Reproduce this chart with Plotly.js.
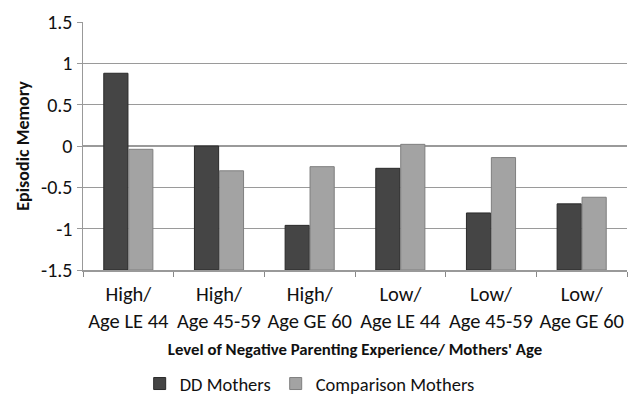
<!DOCTYPE html>
<html><head><meta charset="utf-8">
<script src="https://cdn.plot.ly/plotly-3.0.1.min.js"></script>
<style>html,body{margin:0;padding:0;background:#fff}#chart{width:632px;height:400px}</style>
</head><body><div id="chart"></div>
<script>
const categories = ["High/<br>Age LE 44","High/<br>Age 45-59","High/<br>Age GE 60","Low/<br>Age LE 44","Low/<br>Age 45-59","Low/<br>Age GE 60"];
const ddMothers = [0.88, 0.00, -0.96, -0.27, -0.81, -0.70];
const comparisonMothers = [-0.04, -0.30, -0.25, 0.02, -0.14, -0.62];
const seriesNames = ["DD Mothers", "Comparison Mothers"];
const yTicks = [-1.5, -1, -0.5, 0, 0.5, 1, 1.5];
const yMin = -1.5, yMax = 1.5;

const FONT = "Carlito, Lato, 'Open Sans', sans-serif";
// Bars rise from the bottom of the axis (as in the original spreadsheet chart)
const traces = [
  {type:"bar", name:seriesNames[0], x:categories, base:yMin, y:ddMothers.map(v => v - yMin),
   marker:{color:"#454545", line:{color:"#2a2a2a", width:1}}},
  {type:"bar", name:seriesNames[1], x:categories, base:yMin, y:comparisonMothers.map(v => v - yMin),
   marker:{color:"#a3a3a3", line:{color:"#7f7f7f", width:1}}}
];
const layout = {
  width:632, height:400,
  margin:{l:83, r:5, t:22, b:130},
  paper_bgcolor:"#fff", plot_bgcolor:"#fff",
  font:{family:FONT, color:"#111", size:18},
  barmode:"group", bargap:0.45, bargroupgap:0.03,
  showlegend:true,
  legend:{orientation:"h", x:0.49, xanchor:"center", xref:"container", y:0.04, yref:"container", yanchor:"middle",
          font:{size:18.5, family:FONT}, itemwidth:30, traceorder:"normal"},
  xaxis:{type:"category", tickson:"boundaries", ticks:"outside", ticklen:5, tickcolor:"#888",
         showline:true, linecolor:"#999", linewidth:1.5, showgrid:false, tickangle:0,
         tickfont:{size:20.5, family:FONT}, automargin:false, ticklabelstandoff:5,
         title:{text:"<b>Level of Negative Parenting Experience/ Mothers' Age</b>", font:{size:16.8, family:FONT}, standoff:10}},
  yaxis:{range:[yMin,yMax], tickvals:yTicks, ticktext:yTicks.map(String),
         showgrid:true, gridcolor:"#9a9a9a", gridwidth:1.5, zeroline:false,
         showline:true, linecolor:"#999", linewidth:1.5, ticks:"outside", ticklen:5, tickcolor:"#999",
         tickfont:{size:20, family:FONT}, automargin:false,
         title:{text:"<b>Episodic Memory</b>", font:{size:18, family:FONT}, standoff:6}}
};
Plotly.newPlot("chart", traces, layout, {staticPlot:true});
</script></body></html>
